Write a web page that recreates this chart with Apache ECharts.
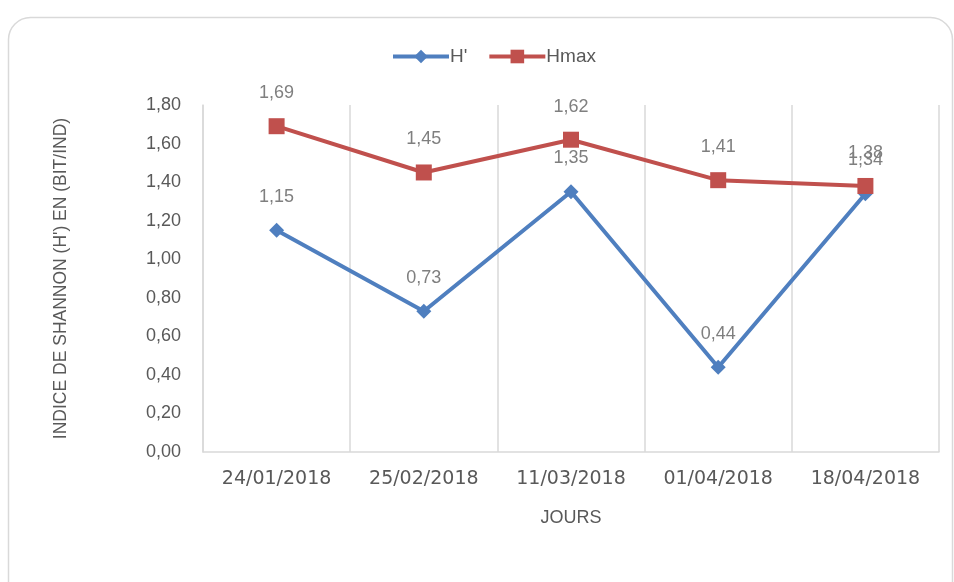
<!DOCTYPE html>
<html>
<head>
<meta charset="utf-8">
<script src="https://cdn.jsdelivr.net/npm/echarts@6/dist/echarts.min.js"></script>
<style>
  html, body { margin: 0; padding: 0; background: #fff; }
  #chart { width: 954px; height: 582px; }
</style>
</head>
<body>
<div id="chart"></div>
<script>
const dates = ['24/01/2018', '25/02/2018', '11/03/2018', '01/04/2018', '18/04/2018'];
const hPrime = [1.15, 0.73, 1.35, 0.44, 1.34];
const hMax = [1.69, 1.45, 1.62, 1.41, 1.38];
const yTicks = { min: 0, max: 1.8, interval: 0.2 };

const fmt = (v) => Number(v).toFixed(2).replace('.', ',');
const textColor = '#595959';
const font = 'Liberation Sans';

const chart = echarts.init(document.getElementById('chart'));

chart.setOption({
  animation: false,
  textStyle: { fontFamily: font },
  graphic: [{
    type: 'rect',
    left: 6, top: 15,
    shape: { width: 944, height: 600, r: 22 },
    style: { fill: 'none', stroke: '#d9d9d9', lineWidth: 1.5 },
    silent: true
  }],
  legend: {
    top: 42,
    left: 386,
    itemWidth: 56,
    itemHeight: 17,
    itemGap: 20,
    lineStyle: { width: 4 },
    textStyle: { color: textColor, fontSize: 19, fontFamily: font, padding: [0, 0, 0, -4] },
    data: ["H'", 'Hmax']
  },
  grid: { left: 203, right: 15, top: 105, bottom: 130 },
  xAxis: {
    type: 'category',
    data: dates,
    name: 'JOURS',
    nameLocation: 'middle',
    nameGap: 57,
    nameTextStyle: { color: textColor, fontSize: 18, fontFamily: font },
    axisLine: { lineStyle: { color: '#d9d9d9', width: 1.5 } },
    axisTick: { show: false },
    axisLabel: { color: textColor, fontSize: 19, margin: 18, fontFamily: 'DejaVu Sans' },
    splitLine: { show: true, lineStyle: { color: '#d9d9d9', width: 1.5 } }
  },
  yAxis: {
    type: 'value',
    min: yTicks.min,
    max: yTicks.max,
    interval: yTicks.interval,
    name: "INDICE DE SHANNON (H') EN (BIT/IND)",
    nameLocation: 'middle',
    nameGap: 133,
    nameTextStyle: { color: textColor, fontSize: 17.5, fontFamily: font },
    axisLine: { show: true, lineStyle: { color: '#d9d9d9', width: 1.5 } },
    axisTick: { show: false },
    splitLine: { show: false },
    axisLabel: { color: textColor, fontSize: 18, margin: 22, formatter: fmt }
  },
  series: [
    {
      name: "H'",
      type: 'line',
      data: hPrime,
      symbol: 'diamond',
      symbolSize: 15,
      color: '#4f7fbf',
      lineStyle: { width: 4, color: '#4f7fbf' },
      itemStyle: { color: '#4f7fbf' },
      label: {
        show: true, position: 'top', distance: 17,
        color: '#7f7f7f', fontSize: 18, formatter: (p) => fmt(p.value)
      }
    },
    {
      name: 'Hmax',
      type: 'line',
      data: hMax,
      symbol: 'rect',
      symbolSize: 16,
      color: '#c0504d',
      lineStyle: { width: 4, color: '#c0504d' },
      itemStyle: { color: '#c0504d' },
      label: {
        show: true, position: 'top', distance: 16,
        color: '#7f7f7f', fontSize: 18, formatter: (p) => fmt(p.value)
      }
    }
  ]
});
</script>
</body>
</html>
